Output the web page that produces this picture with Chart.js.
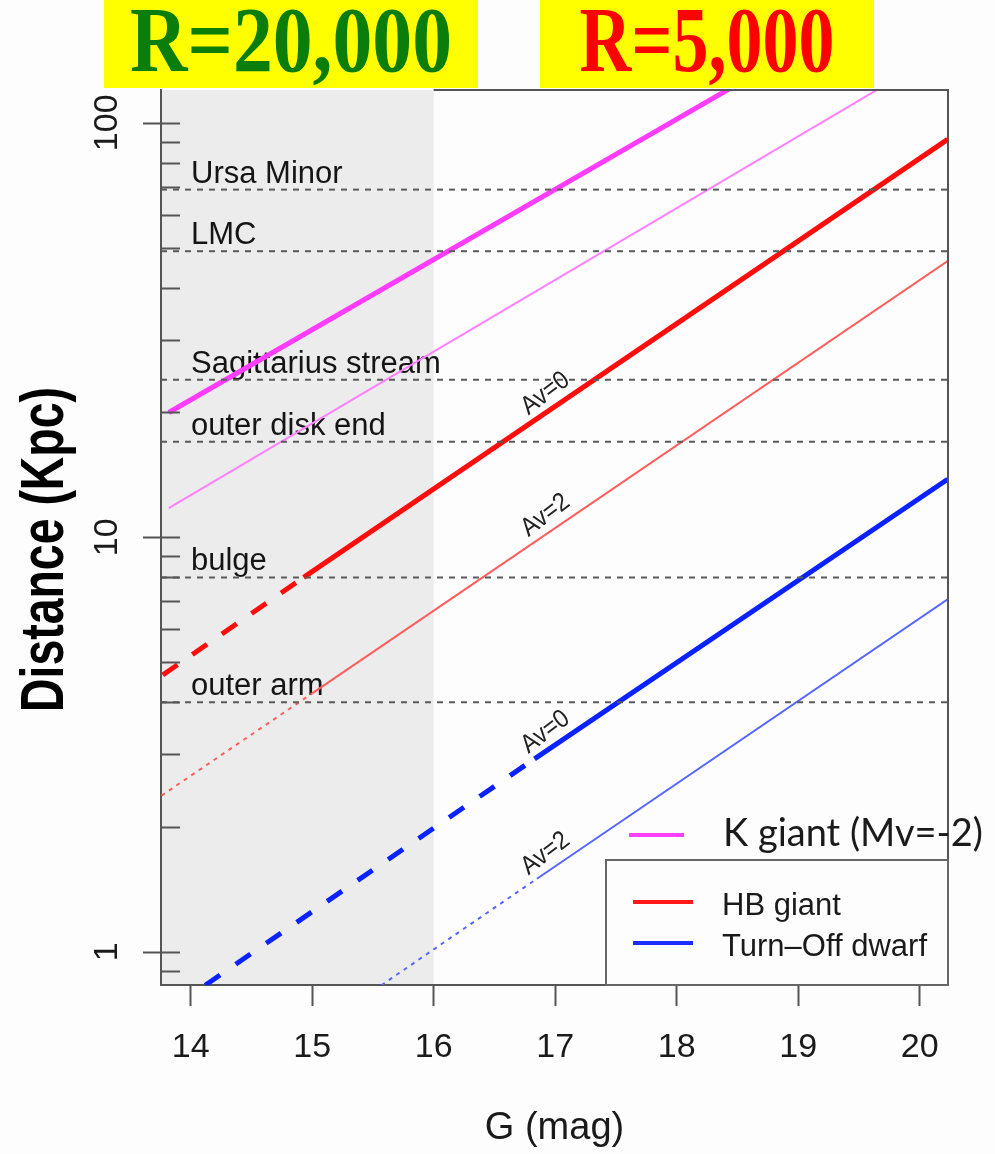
<!DOCTYPE html>
<html>
<head>
<meta charset="utf-8">
<script src="https://cdn.jsdelivr.net/npm/chart.js@4.4.1/dist/chart.umd.min.js"></script>
<style>
  html, body { margin: 0; padding: 0; background: #fdfdfd; }
  #wrap { position: relative; width: 995px; height: 1154px; }
</style>
</head>
<body>
<div id="wrap"><canvas id="chart" width="995" height="1154"></canvas></div>
<script>
// axis ranges
const gRange = [13.756, 20.233];
const distRange = [0.831, 120];
const gTicks = [14, 15, 16, 17, 18, 19, 20];
const distTicks = [1, 10, 100];
const highResLimit = 16;   // G below this: R=20,000 zone

// [G, distance kpc]; for 3-point series the first segment is the faint (dashed/dotted) part
const kGiantAv0 = [[13.82, 20.0], [18.48, 123]];
const kGiantAv2 = [[13.82, 11.75], [19.70, 122.6]];
const hbAv0 = [[13.77, 4.65], [14.93, 8.0], [20.23, 91.2]];
const hbAv2 = [[13.76, 2.38], [15.0, 4.2], [20.23, 46.4]];
const toAv0 = [[14.12, 0.83], [16.83, 2.92], [20.23, 13.8]];
const toAv2 = [[15.57, 0.83], [16.85, 1.50], [20.23, 7.08]];

// reference distances
const refNames = ['Ursa Minor', 'LMC', 'Sagittarius stream', 'outer disk end', 'bulge', 'outer arm'];
const refDist = [69, 49, 24, 17, 8, 4];

const legendNames = ['K giant (Mv=-2)', 'HB giant', 'Turn\u2013Off dwarf'];
const legendColors = ['#ff40ff', '#ff1a1a', '#1a2eff'];

const FONT = '"Liberation Sans", Arial, Helvetica, sans-serif';

function toPoints(arr) {
    return arr.map(p => ({ x: p[0], y: p[1] }));
}

function series(arr, color, width, dash) {
    return {
        data: toPoints(arr),
        showLine: true,
        borderColor: color,
        borderWidth: width,
        pointRadius: 0,
        pointHoverRadius: 0,
        fill: false,
        tension: 0,
        order: 1,
        segment: dash ? { borderDash: c => (c.p0DataIndex === 0 ? dash : undefined) } : undefined,
    };
}

const refSets = refDist.map(d => ({
    data: [{ x: gRange[0], y: d }, { x: gRange[1], y: d }],
    showLine: true,
    borderColor: '#5a5a5a',
    borderWidth: 2,
    borderDash: [6, 6],
    pointRadius: 0,
    order: 0,
}));

// Av labels sit just above each line at this G
const avLabels = [
    { text: 'Av=0', line: hbAv0 },
    { text: 'Av=2', line: hbAv2 },
    { text: 'Av=0', line: toAv0 },
    { text: 'Av=2', line: toAv2 },
];
const avLabelG = 17.0;

const decor = {
    id: 'decor',
    beforeDatasetsDraw(chart) {
        const { ctx, chartArea: a, scales: { x, y } } = chart;
        ctx.save();
        // shaded high-resolution zone
        ctx.fillStyle = '#ececec';
        ctx.fillRect(a.left + 1, a.top, x.getPixelForValue(highResLimit) - a.left - 1, a.bottom - a.top - 1);

        // reference names above the dashed lines
        ctx.fillStyle = '#151515';
        ctx.font = '31px ' + FONT;
        ctx.textAlign = 'left';
        ctx.textBaseline = 'alphabetic';
        refNames.forEach((name, i) => {
            ctx.fillText(name, a.left + 30, y.getPixelForValue(refDist[i]) - 7);
        });
        ctx.restore();
    },
    afterDatasetsDraw(chart) {
        const { ctx, chartArea: a, scales: { x, y } } = chart;
        ctx.save();

        // Av labels along the lines
        ctx.fillStyle = '#222';
        ctx.font = '26px ' + FONT;
        ctx.textAlign = 'center';
        ctx.textBaseline = 'bottom';
        avLabels.forEach(l => {
            const p0 = l.line[l.line.length - 2], p1 = l.line[l.line.length - 1];
            const x0 = x.getPixelForValue(p0[0]), y0 = y.getPixelForValue(p0[1]);
            const x1 = x.getPixelForValue(p1[0]), y1 = y.getPixelForValue(p1[1]);
            const px = x.getPixelForValue(avLabelG);
            const py = y0 + (y1 - y0) * (px - x0) / (x1 - x0);
            ctx.save();
            ctx.translate(px, py);
            ctx.rotate(Math.atan2(y1 - y0, x1 - x0) - 0.05);
            ctx.scale(0.9, 1);
            ctx.fillText(l.text, 0, -3);
            ctx.restore();
        });

        // remaining box edges
        ctx.strokeStyle = '#555';
        ctx.lineWidth = 2;
        ctx.beginPath();
        ctx.moveTo(x.getPixelForValue(highResLimit), a.top);
        ctx.lineTo(a.right, a.top);
        ctx.lineTo(a.right, a.bottom);
        ctx.stroke();

        // log ticks: inner at every 1..9 x 10^n, outer at decades
        ctx.beginPath();
        for (let dec = 0.1; dec <= 100; dec *= 10) {
            for (let k = 1; k <= 9; k++) {
                const v = dec * k;
                if (v < distRange[0] || v > distRange[1]) continue;
                const py = Math.round(y.getPixelForValue(v)) + 0.5;
                ctx.moveTo(a.left, py);
                ctx.lineTo(a.left + 19, py);
            }
        }
        distTicks.forEach(v => {
            const py = Math.round(y.getPixelForValue(v)) + 0.5;
            ctx.moveTo(a.left - 18, py);
            ctx.lineTo(a.left, py);
        });
        ctx.stroke();

        // rotated decade labels
        ctx.fillStyle = '#1a1a1a';
        ctx.font = '34px ' + FONT;
        ctx.textAlign = 'center';
        ctx.textBaseline = 'alphabetic';
        distTicks.forEach(v => {
            ctx.save();
            ctx.translate(a.left - 44, y.getPixelForValue(v));
            ctx.rotate(-Math.PI / 2);
            ctx.fillText(String(v), 0, 0);
            ctx.restore();
        });

        // y title, condensed like the original
        ctx.save();
        ctx.font = 'bold 62px ' + FONT;
        const tw = ctx.measureText('Distance (Kpc)').width;
        ctx.translate(63, (a.top + a.bottom) / 2 + 12);
        ctx.rotate(-Math.PI / 2);
        ctx.scale(325 / tw, 1);
        ctx.fillStyle = '#000';
        ctx.fillText('Distance (Kpc)', 0, 0);
        ctx.restore();

        // legend
        ctx.lineWidth = 4;
        ctx.strokeStyle = legendColors[0];
        ctx.beginPath();
        ctx.moveTo(629, 835); ctx.lineTo(684, 835);
        ctx.stroke();
        ctx.fillStyle = '#1a1a1a';
        ctx.textAlign = 'left';
        ctx.font = '38px Lato, "Open Sans", sans-serif';
        ctx.fillText(legendNames[0], 723, 846);

        ctx.fillStyle = '#fdfdfd';
        ctx.fillRect(606, 860, a.right - 606, a.bottom - 860);
        ctx.strokeStyle = '#666';
        ctx.lineWidth = 2;
        ctx.strokeRect(606, 860, a.right - 606, a.bottom - 860);

        ctx.font = '31px ' + FONT;
        [1, 2].forEach((i, k) => {
            const ly = 902 + k * 41;
            ctx.strokeStyle = legendColors[i];
            ctx.lineWidth = 4;
            ctx.beginPath();
            ctx.moveTo(633, ly); ctx.lineTo(693, ly);
            ctx.stroke();
            ctx.fillStyle = '#1a1a1a';
            ctx.fillText(legendNames[i], 722, ly + 13);
        });

        // resolution banners
        const banners = [
            { text: 'R=20,000', color: '#0b7d0b', left: 104, right: 478, width: 322 },
            { text: 'R=5,000', color: '#ff0000', left: 540, right: 874, width: 255 },
        ];
        banners.forEach(b => {
            ctx.fillStyle = '#ffff00';
            ctx.fillRect(b.left, 0, b.right - b.left, 88);
            ctx.save();
            ctx.font = 'bold 94px "Liberation Serif", "Times New Roman", serif';
            const w = ctx.measureText(b.text).width;
            ctx.translate((b.left + b.right) / 2, 71);
            ctx.scale(b.width / w, 1);
            ctx.textAlign = 'center';
            ctx.fillStyle = b.color;
            ctx.fillText(b.text, 0, 0);
            ctx.restore();
        });

        ctx.restore();
    },
};

new Chart(document.getElementById('chart'), {
    type: 'scatter',
    data: {
        datasets: [
            series(kGiantAv0, '#ff3cff', 5),
            series(kGiantAv2, '#ff80ff', 2),
            series(hbAv0, '#ff0d0d', 5, [18, 18]),
            series(hbAv2, '#ff5c5c', 2, [4, 5]),
            series(toAv0, '#0a22ff', 5, [18, 19]),
            series(toAv2, '#5566ff', 2, [4, 5]),
            ...refSets,
        ],
    },
    options: {
        responsive: false,
        animation: false,
        events: [],
        layout: { padding: { top: 90, right: 47, bottom: 0, left: 0 } },
        plugins: {
            legend: { display: false },
            tooltip: { enabled: false },
        },
        scales: {
            x: {
                type: 'linear',
                position: 'bottom',
                min: gRange[0],
                max: gRange[1],
                afterFit: s => { s.height = 169; },
                afterBuildTicks: s => { s.ticks = gTicks.map(v => ({ value: v })); },
                ticks: {
                    includeBounds: false,
                    padding: 21,
                    color: '#1a1a1a',
                    font: { family: FONT, size: 34 },
                    maxRotation: 0,
                },
                grid: {
                    display: true,
                    drawOnChartArea: false,
                    drawTicks: true,
                    tickLength: 21,
                    tickColor: '#555',
                    tickWidth: 2,
                },
                border: { display: true, color: '#555', width: 2 },
                title: {
                    display: true,
                    text: 'G (mag)',
                    color: '#1a1a1a',
                    font: { family: FONT, size: 38 },
                    padding: { top: 0, bottom: 3 },
                },
            },
            y: {
                type: 'logarithmic',
                position: 'left',
                min: distRange[0],
                max: distRange[1],
                afterFit: s => { s.width = 161; },
                ticks: { display: false },
                grid: { display: false },
                border: { display: true, color: '#555', width: 2 },
            },
        },
    },
    plugins: [decor],
});
</script>
</body>
</html>
